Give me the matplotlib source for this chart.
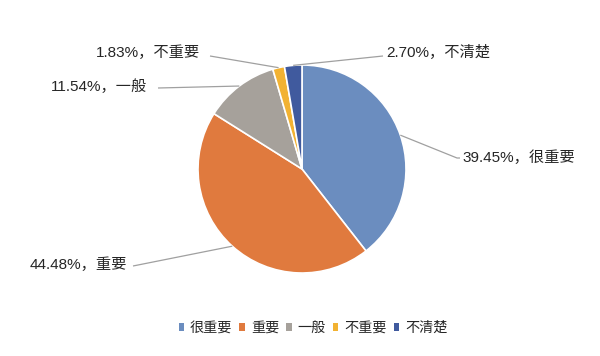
import numpy as np
import matplotlib
matplotlib.use("Agg")
import matplotlib.pyplot as plt
from matplotlib.patches import Patch

plt.rcParams['font.family'] = ['Liberation Sans', 'Noto Sans CJK SC', 'DejaVu Sans']

categories = ['很重要', '重要', '一般', '不重要', '不清楚']
values = [39.45, 44.48, 11.54, 1.83, 2.70]
colors = ['#6B8DBF', '#E07A3E', '#A6A19B', '#F2B232', '#405A9E']

W, H = 600, 356
fig = plt.figure(figsize=(6, 3.56), dpi=100)
ax = fig.add_axes([0, 0, 1, 1])
ax.set_xlim(0, W)
ax.set_ylim(0, H)
ax.set_aspect('equal')
ax.axis('off')

cx, cy, R = 302, H - 169, 104
wedges, _ = ax.pie(values, colors=colors, startangle=90, counterclock=False,
                   center=(cx, cy), radius=R,
                   wedgeprops=dict(edgecolor='white', linewidth=1.2))
ax.set_xlim(0, W)
ax.set_ylim(0, H)

# label layout (pixel coords from top): (line end points..., text x, text y, ha)
layout = {
    '不清楚': ([(383, 56)], 386, 52, 'left'),
    '很重要': ([(457, 158), (460, 158)], 462, 158, 'left'),
    '不重要': ([(210, 56)], 200, 53, 'right'),
    '一般': ([(158, 88)], 147, 87, 'right'),
    '重要': ([(133, 266)], 127, 265, 'right'),
}
for w, cat, v in zip(wedges, categories, values):
    ang = np.deg2rad((w.theta1 + w.theta2) / 2)
    px, py = cx + R * np.cos(ang), cy + R * np.sin(ang)
    pts, tx, ty, ha = layout[cat]
    xs = [px] + [p[0] for p in pts]
    ys = [py] + [H - p[1] for p in pts]
    ax.plot(xs, ys, color='#A0A0A0', lw=0.9, solid_capstyle='butt')
    ax.text(tx, H - ty, f'{v:.2f}%，{cat}', ha=ha, va='center',
            fontsize=11, color='#262626')

handles = [Patch(facecolor=c, edgecolor='none') for c in colors]
fig.legend(handles, categories, loc='center', bbox_to_anchor=(313 / W, 1 - 328 / H),
           ncol=5, frameon=False, fontsize=10.2, handlelength=0.4, handleheight=0.4,
           handletextpad=0.4, columnspacing=0.5, labelcolor='#262626')

fig.savefig('out.png', dpi=100)
